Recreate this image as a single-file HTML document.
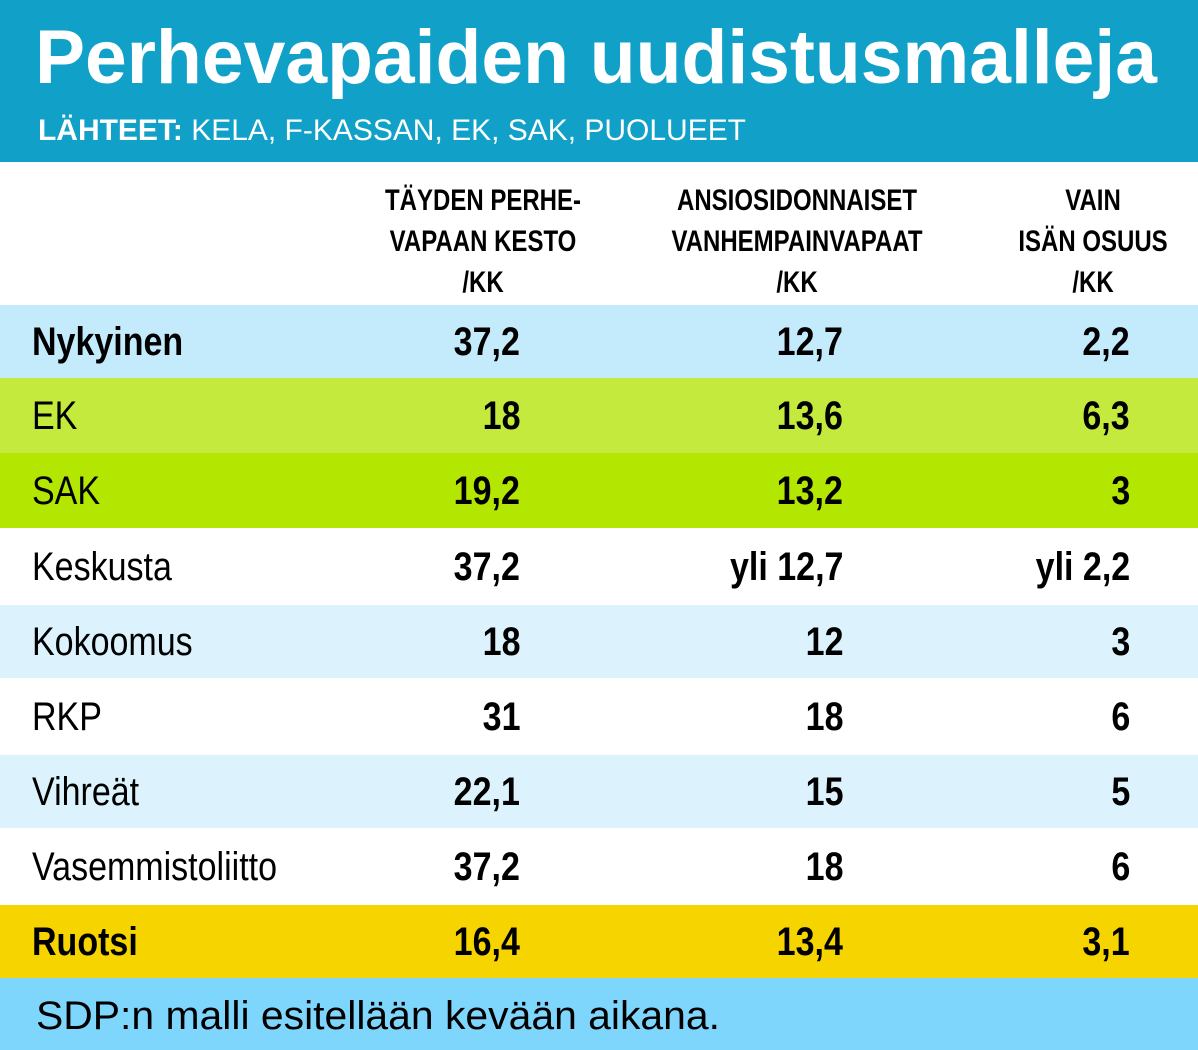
<!DOCTYPE html>
<html><head><meta charset="utf-8"><style>
body{margin:0;width:1198px;height:1050px;position:relative;overflow:hidden;font-family:"Liberation Sans Narrow","Liberation Sans",sans-serif;background:#fff}
.a{position:absolute;white-space:nowrap;line-height:1}
.row{position:absolute;left:0;width:1198px}
.l{left:32px;transform-origin:left center}
.n{transform-origin:right center}
.hd{font-weight:bold;font-size:30px;text-align:center;transform-origin:center center}
</style></head><body>
<div class="row" style="top:0;height:162px;background:#11a1c8"></div>
<div class="a" data-w="1122" style="left:35px;top:20px;font-size:76px;font-weight:bold;color:#fff;transform-origin:left center">Perhevapaiden uudistusmalleja</div>
<div class="a" data-w="708" style="left:38px;top:116px;font-size:30px;color:#fff;transform-origin:left center"><b>LÄHTEET:</b> KELA, F-KASSAN, EK, SAK, PUOLUEET</div>

<div class="a hd" style="left:483px;top:180px;line-height:41px;transform:translateX(-50%) scaleX(0.8)">TÄYDEN PERHE-<br>VAPAAN KESTO<br>/KK</div>
<div class="a hd" style="left:797px;top:180px;line-height:41px;transform:translateX(-50%) scaleX(0.8)">ANSIOSIDONNAISET<br>VANHEMPAINVAPAAT<br>/KK</div>
<div class="a hd" style="left:1093px;top:180px;line-height:41px;transform:translateX(-50%) scaleX(0.8)">VAIN<br>ISÄN OSUUS<br>/KK</div>

<div id="rows"></div>
<div class="row" style="top:978px;height:72px;background:#7fd6fc"></div>
<div class="a" data-w="684" style="left:36px;top:996px;font-size:40px;transform-origin:left center">SDP:n malli esitellään kevään aikana.</div>

<script>
const labels=["Nykyinen","EK","SAK","Keskusta","Kokoomus","RKP","Vihreät","Vasemmistoliitto","Ruotsi"];
const col1=["37,2","18","19,2","37,2","18","31","22,1","37,2","16,4"];
const col2=["12,7","13,6","13,2","yli 12,7","12","18","15","18","13,4"];
const col3=["2,2","6,3","3","yli 2,2","3","6","5","6","3,1"];
const bgs=["#c4ebfc","#c5ea3e","#b3e600","#ffffff","#dcf3fd","#ffffff","#dcf3fd","#ffffff","#f5d400"];
const bold=[true,false,false,false,false,false,false,false,true];
const tops=[305,378,453,528,605,678,755,828,905];
const rights=[520,843,1130];
const root=document.getElementById('rows');
for(let i=0;i<labels.length;i++){
  const h=(tops[i+1]||978)-tops[i];
  const r=document.createElement('div');
  r.className='row';
  
  
  r.style.top=tops[i]+'px';r.style.height=h+'px';r.style.background=bgs[i];
  root.appendChild(r);
  const lb=document.createElement('div');
  lb.className='a l';
  
  
  lb.textContent=labels[i];
  lb.style.top=(tops[i]+h/2-20)+'px';lb.style.fontSize='40px';
  lb.style.fontWeight=bold[i]?'bold':'normal';
  lb.style.transform='scaleX(0.85)';
  root.appendChild(lb);
  [col1,col2,col3].forEach((c,j)=>{
    const v=document.createElement('div');
    v.className='a n';
    
    
    v.textContent=c[i];
    v.style.top=(tops[i]+h/2-20)+'px';v.style.fontSize='40px';v.style.fontWeight='bold';
    v.style.right=(1198-rights[j])+'px';
    v.style.transform='scaleX(0.85)';
    root.appendChild(v);
  });
}
document.querySelectorAll('[data-w]').forEach(e=>{
  const w=e.getBoundingClientRect().width;
  e.style.transform='scaleX('+(+e.dataset.w/w)+')';
});
</script>
</body></html>
